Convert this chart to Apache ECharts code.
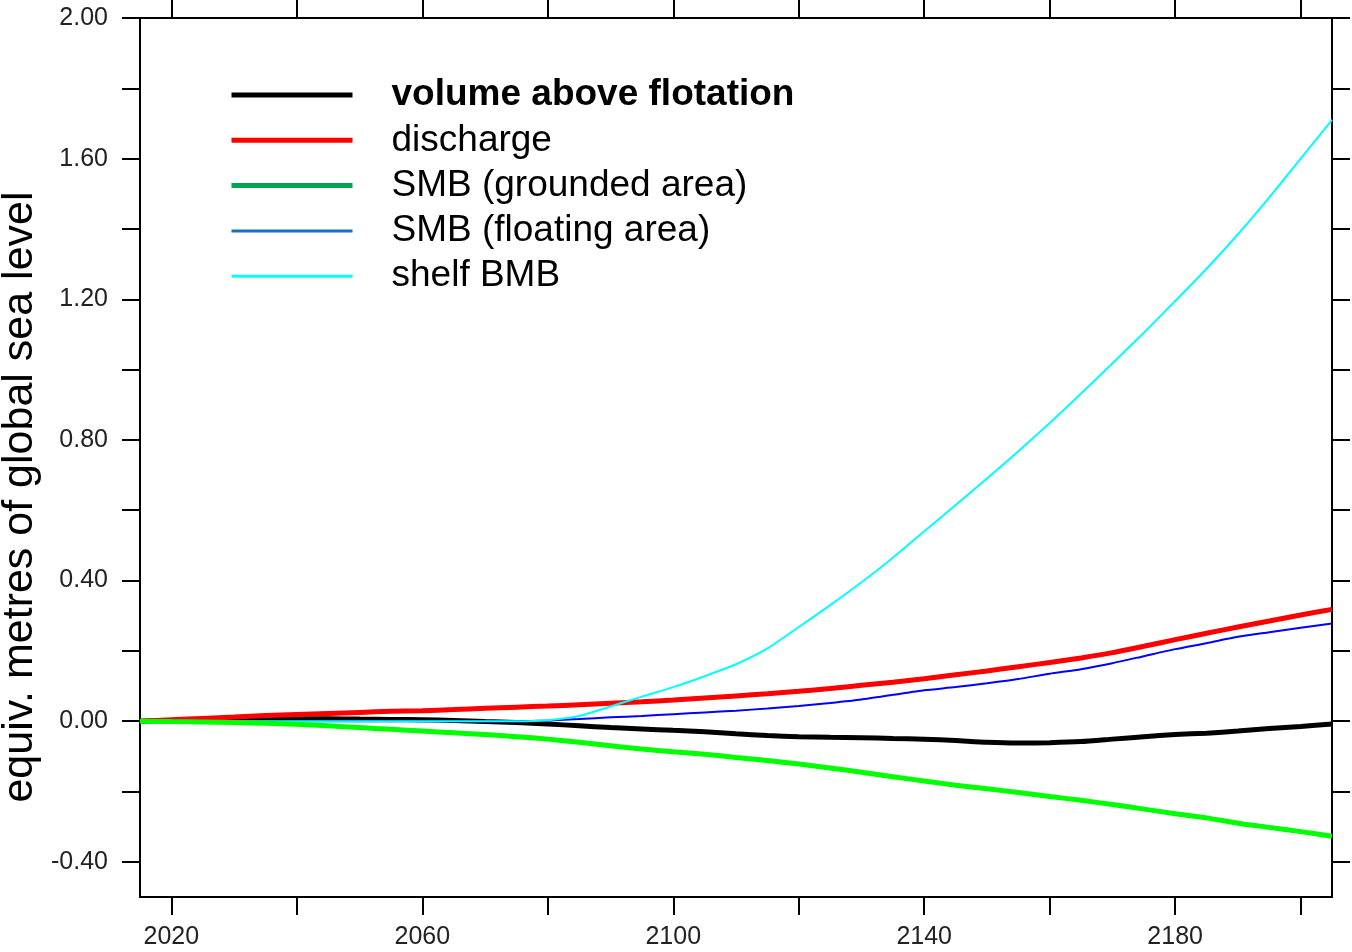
<!DOCTYPE html>
<html>
<head>
<meta charset="utf-8">
<script src="https://cdn.jsdelivr.net/npm/echarts@6/dist/echarts.min.js"></script>
<style>
html,body{margin:0;padding:0;background:#fff;}
#chart{width:1352px;height:952px;}
</style>
</head>
<body>
<div id="chart"></div>
<script>
const years = [2015,2020,2025,2030,2035,2040,2045,2050,2055,2060,2065,2070,2075,2080,2085,2090,2095,2100,2105,2110,2115,2120,2125,2130,2135,2140,2145,2150,2155,2160,2165,2170,2175,2180,2185,2190,2195,2200,2205];

const volumeAboveFlotation = [0,0.002,0.004,0.005,0.006,0.007,0.007,0.006,0.005,0.004,0.002,-0.001,-0.004,-0.008,-0.013,-0.018,-0.022,-0.026,-0.030,-0.036,-0.041,-0.044,-0.046,-0.047,-0.049,-0.051,-0.055,-0.060,-0.062,-0.061,-0.058,-0.051,-0.044,-0.038,-0.034,-0.028,-0.021,-0.015,-0.008];

const discharge = [0,0.004,0.008,0.012,0.016,0.019,0.022,0.025,0.028,0.030,0.033,0.037,0.040,0.043,0.047,0.051,0.055,0.060,0.066,0.072,0.078,0.085,0.093,0.102,0.111,0.121,0.132,0.143,0.155,0.167,0.180,0.195,0.213,0.232,0.250,0.268,0.285,0.302,0.318];

const smbGrounded = [0,-0.001,-0.002,-0.004,-0.006,-0.009,-0.013,-0.018,-0.023,-0.028,-0.033,-0.038,-0.044,-0.051,-0.060,-0.070,-0.079,-0.087,-0.094,-0.103,-0.112,-0.122,-0.133,-0.145,-0.158,-0.170,-0.182,-0.192,-0.203,-0.214,-0.225,-0.237,-0.250,-0.263,-0.275,-0.290,-0.302,-0.314,-0.327];

const smbFloating = [0,0,0,0,0,0,0,0,0,0,0,0,0,0.002,0.006,0.011,0.015,0.020,0.025,0.030,0.036,0.043,0.052,0.062,0.075,0.088,0.097,0.108,0.120,0.135,0.148,0.165,0.185,0.205,0.222,0.240,0.253,0.266,0.278];

const shelfBMB = [0,0,0,0,0,0,0,0,0,0,0,0,0,0.003,0.015,0.042,0.070,0.097,0.128,0.162,0.207,0.268,0.330,0.395,0.465,0.540,0.615,0.690,0.768,0.848,0.932,1.018,1.105,1.195,1.287,1.385,1.490,1.600,1.710];

const xTicks = [2020,2040,2060,2080,2100,2120,2140,2160,2180,2200];
const xLabels = [2020,2060,2100,2140,2180];
const yTicks = [-0.4,-0.2,0,0.2,0.4,0.6,0.8,1.0,1.2,1.4,1.6,1.8,2.0];
const yLabels = [-0.4,0,0.4,0.8,1.2,1.6,2.0];

const seriesNames = ['volume above flotation','discharge','SMB (grounded area)','SMB (floating area)','shelf BMB'];
const lineColors = ['#000000','#ff0000','#00ff00','#0000ff','#00ffff'];
const legendColors = ['#000000','#ff0000','#00a64f','#1a6fbf','#00ffff'];
const lineWidths = [5,5,5,2,2];
const legendWidths = [5,5,5,3,3];
const seriesValues = [volumeAboveFlotation, discharge, smbGrounded, smbFloating, shelfBMB];

const FONT = '"Liberation Sans", Arial, Helvetica, sans-serif';

const chart = echarts.init(document.getElementById('chart'), null, {renderer:'canvas'});

const axisLineStyle = {show:true, onZero:false, lineStyle:{color:'#000', width:2}};
const tickStyle = {show:true, inside:false, length:18, lineStyle:{color:'#000', width:2}};

const drawOrder = [0,1,3,4,2];
const series = drawOrder.map(i => ({
  name: seriesNames[i],
  type: 'line',
  data: years.map((y, k) => [y, seriesValues[i][k]]),
  showSymbol: false,
  symbol: 'none',
  smooth: 0.2,
  lineStyle: {color: lineColors[i], width: lineWidths[i]},
  itemStyle: {color: lineColors[i]},
  z: 2,
  animation: false
}));

chart.setOption({
  backgroundColor: '#ffffff',
  animation: false,
  grid: {left:140, right:20, top:18, bottom:55, containLabel:false},
  legend: {
    orient: 'vertical',
    left: 229,
    top: 75,
    padding: 0,
    itemWidth: 121,
    itemHeight: 14,
    itemGap: 5.3,
    selectedMode: false,
    textStyle: {fontFamily: FONT, fontSize: 37, color: '#000', lineHeight: 40, padding:[0,0,0,34]},
    data: seriesNames.map((n, i) => ({
      name: n,
      itemStyle: {color: legendColors[i], opacity: 0},
      lineStyle: {color: legendColors[i], width: legendWidths[i], cap: 'butt'},
      textStyle: i === 0 ? {fontWeight: 'bold'} : {}
    }))
  },
  graphic: [{
    type: 'text',
    x: 20,
    y: 497,
    rotation: Math.PI / 2,
    style: {
      text: 'equiv. metres of global sea level',
      fontFamily: FONT,
      fontSize: 43,
      fill: '#000',
      align: 'center',
      verticalAlign: 'middle'
    }
  }],
  xAxis: [{
    type: 'value',
    position: 'bottom',
    min: 2015,
    max: 2205,
    axisLine: axisLineStyle,
    axisTick: Object.assign({customValues: xTicks}, tickStyle),
    axisLabel: {customValues: xLabels, margin: 28, fontFamily: FONT, fontSize: 25, color: '#222', formatter: v => String(v)},
    splitLine: {show:false}
  },{
    type: 'value',
    position: 'top',
    min: 2015,
    max: 2205,
    axisLine: axisLineStyle,
    axisTick: Object.assign({customValues: xTicks}, tickStyle),
    axisLabel: {show:false},
    splitLine: {show:false}
  }],
  yAxis: [{
    type: 'value',
    position: 'left',
    min: -0.5,
    max: 2.0,
    axisLine: axisLineStyle,
    axisTick: Object.assign({customValues: yTicks}, tickStyle),
    axisLabel: {customValues: yLabels, margin: 32, fontFamily: FONT, fontSize: 25, color: '#222', formatter: v => v.toFixed(2)},
    splitLine: {show:false}
  },{
    type: 'value',
    position: 'right',
    min: -0.5,
    max: 2.0,
    axisLine: axisLineStyle,
    axisTick: Object.assign({customValues: yTicks}, tickStyle),
    axisLabel: {show:false},
    splitLine: {show:false}
  }],
  series: series
});
</script>
</body>
</html>
